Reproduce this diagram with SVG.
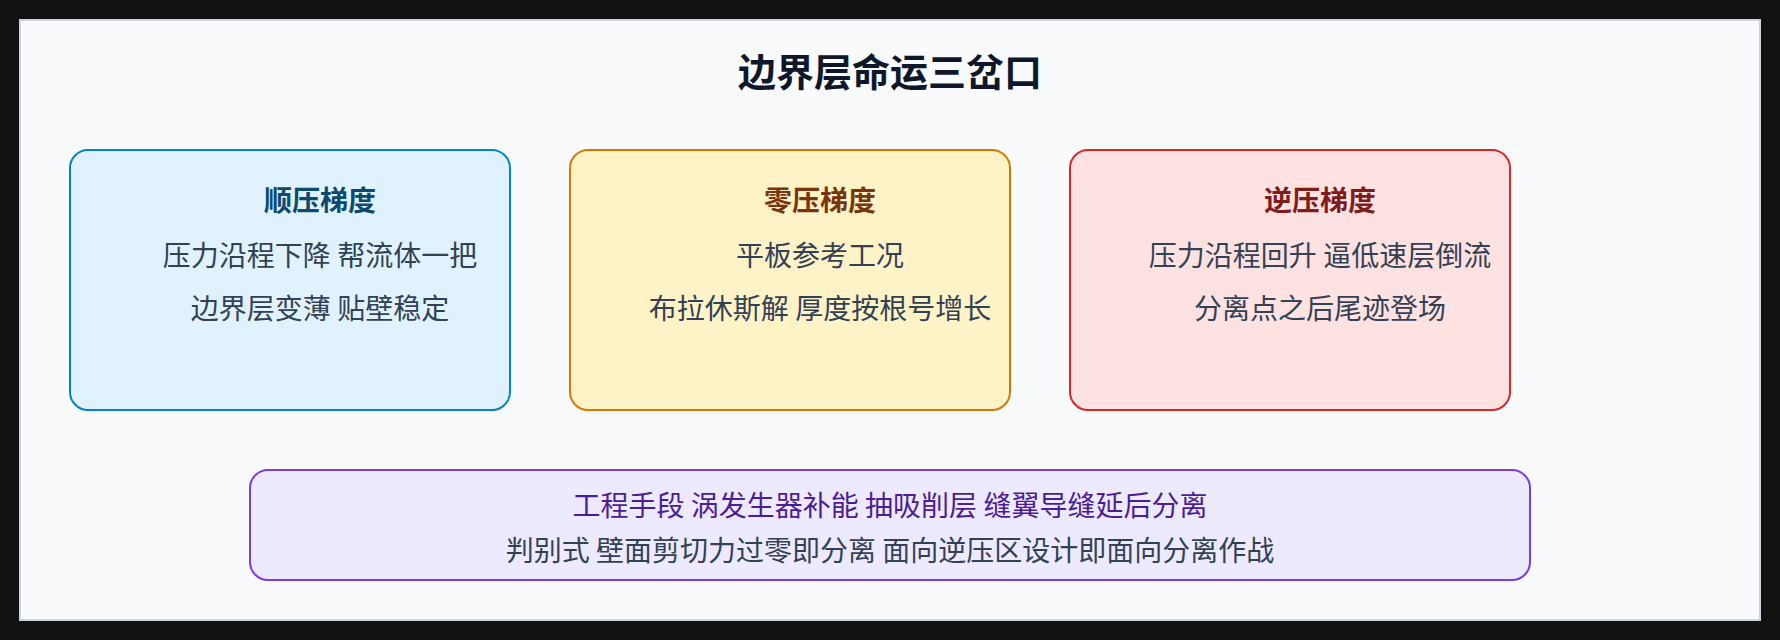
<svg xmlns="http://www.w3.org/2000/svg" width="1780" height="640" viewBox="0 0 1780 640">
<style>
.t{font-family:"Noto Sans CJK SC","Noto Sans",sans-serif;text-anchor:middle}
.main{font-size:38px;font-weight:700;fill:#0f172a}
.h{font-size:28px;font-weight:700}
.b{font-size:28px;fill:#334155}
.box{stroke-width:2}
</style>
<rect x="0" y="0" width="1780" height="640" fill="#111111"/>
<rect x="20" y="20" width="1740" height="600" fill="#f8fafc" stroke="#cbd5e1" stroke-width="2"/>
<text class="t main" x="890" y="86">边界层命运三岔口</text>
<g id="connectors"/>
<g id="favorable">
<rect class="box" x="70" y="150" width="440" height="260" rx="18" fill="#e0f2fe" stroke="#0284c7"/>
<text class="t h" x="320" y="211" fill="#0c4a6e">顺压梯度</text>
<text class="t b" x="320" y="266">压力沿程下降 帮流体一把</text>
<text class="t b" x="320" y="319">边界层变薄 贴壁稳定</text>
</g>
<g id="zero">
<rect class="box" x="570" y="150" width="440" height="260" rx="18" fill="#fef3c7" stroke="#d97706"/>
<text class="t h" x="820" y="211" fill="#78350f">零压梯度</text>
<text class="t b" x="820" y="266">平板参考工况</text>
<text class="t b" x="820" y="319">布拉休斯解 厚度按根号增长</text>
</g>
<g id="adverse">
<rect class="box" x="1070" y="150" width="440" height="260" rx="18" fill="#fee2e2" stroke="#dc2626"/>
<text class="t h" x="1320" y="211" fill="#7f1d1d">逆压梯度</text>
<text class="t b" x="1320" y="266">压力沿程回升 逼低速层倒流</text>
<text class="t b" x="1320" y="319">分离点之后尾迹登场</text>
</g>
<g id="engineering">
<rect class="box" x="250" y="470" width="1280" height="110" rx="18" fill="#ede9fe" stroke="#7c3aed"/>
<text class="t b" x="890" y="516" style="fill:#4c1d95">工程手段 涡发生器补能 抽吸削层 缝翼导缝延后分离</text>
<text class="t b" x="890" y="561">判别式 壁面剪切力过零即分离 面向逆压区设计即面向分离作战</text>
</g>
</svg>
